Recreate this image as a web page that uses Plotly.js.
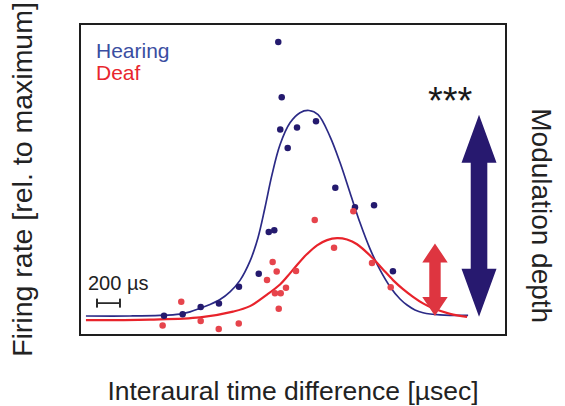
<!DOCTYPE html>
<html>
<head>
<meta charset="utf-8">
<script src="https://cdn.plot.ly/plotly-3.0.1.min.js"></script>
<style>html,body{margin:0;padding:0;background:#fff;}#chart{width:565px;height:406px;}</style>
</head>
<body>
<div id="chart"></div>
<script>
// ---- Data (ITD in µs, firing rate relative to maximum) ----
const hearingX = [-128, -98, -111, 35, 200, -46, 368, -1122, -960, -803, -644, -470, -298, -211, -163, 539, 705, 869];
const hearingY = [1.000, 0.798, 0.681, 0.688, 0.711, 0.613, 0.468, 0.001, 0.006, 0.033, 0.046, 0.107, 0.154, 0.307, 0.313, 0.397, 0.404, 0.163];

const deafX = [-972, -1134, -803, -646, -472, -177, -142, -226, -157, -107, -61, -124, 26, 525, 189, 357, 687, 850];
const deafY = [0.052, -0.035, -0.018, -0.047, -0.027, 0.197, 0.162, 0.131, 0.083, 0.083, 0.103, 0.026, 0.164, 0.382, 0.350, 0.249, 0.193, 0.105];

// fitted curves
const hearingFitX = [-1801, -1418, -1157, -983, -896, -809, -722, -635, -548, -461, -374, -305, -244, -183, -113, -26, 61, 139, 218, 322, 409, 496, 583, 670, 757, 844, 931, 992, 1061, 1131, 1279, 1523];
const hearingFitY = [0.000, 0.000, 0.002, 0.007, 0.015, 0.028, 0.042, 0.060, 0.088, 0.130, 0.200, 0.285, 0.395, 0.515, 0.625, 0.705, 0.742, 0.750, 0.735, 0.655, 0.560, 0.450, 0.340, 0.245, 0.168, 0.107, 0.062, 0.040, 0.022, 0.012, 0.004, 0.002];

const deafFitX = [-1801, -1244, -809, -522, -374, -226, -113, -52, 35, 122, 209, 296, 383, 470, 557, 696, 783, 870, 957, 1044, 1131, 1218, 1366, 1514];
const deafFitY = [-0.015, -0.013, -0.005, 0.016, 0.036, 0.078, 0.115, 0.143, 0.186, 0.226, 0.258, 0.277, 0.284, 0.279, 0.262, 0.210, 0.170, 0.131, 0.098, 0.070, 0.046, 0.028, 0.008, -0.003];

// modulation depth (arrow extents)
const depthGroups = ['Hearing', 'Deaf'];
const depthValues = [0.734, 0.265];

const scaleBarUs = 200;

// ---- Layout constants ----
const W = 565, H = 406;
const M = {l: 81, r: 60, t: 25, b: 72};
const xRange = [-1844, 1844];
const yRange = [-0.0657, 1.062];
const plotW = W - M.l - M.r, plotH = H - M.t - M.b;
const pxX = (xRange[1] - xRange[0]) / plotW; // data units per px (x)
const pxY = (yRange[1] - yRange[0]) / plotH; // data units per px (y)
const paperX = px => (px - M.l) / plotW;
const paperY = py => (M.t + plotH - py) / plotH;

const navy = '#241a6e';
const navyLine = '#2b2a86';
const red = '#e8232b';
const redDot = '#e6444c';

function arrowPath(cx, y0, y1, headLenPx, headHalfPx, shaftHalfPx) {
  const hl = headLenPx * pxY, hh = headHalfPx * pxX, sh = shaftHalfPx * pxX;
  const pts = [
    [cx, y1], [cx + hh, y1 - hl], [cx + sh, y1 - hl], [cx + sh, y0 + hl],
    [cx + hh, y0 + hl], [cx, y0], [cx - hh, y0 + hl], [cx - sh, y0 + hl],
    [cx - sh, y1 - hl], [cx - hh, y1 - hl]
  ];
  return 'M ' + pts.map(p => p[0] + ',' + p[1]).join(' L ') + ' Z';
}

const traces = [
  {x: hearingFitX, y: hearingFitY, mode: 'lines', line: {color: navyLine, width: 1.7, shape: 'spline', smoothing: 1}, hoverinfo: 'skip', showlegend: false},
  {x: deafFitX, y: deafFitY, mode: 'lines', line: {color: red, width: 2.2, shape: 'spline', smoothing: 1}, hoverinfo: 'skip', showlegend: false},
  {x: hearingX, y: hearingY, mode: 'markers', name: 'Hearing', marker: {color: navy, size: 6.5}, showlegend: false},
  {x: deafX, y: deafY, mode: 'markers', name: 'Deaf', marker: {color: redDot, size: 6.5}, showlegend: false}
];

const sbX0 = -1705, sbY = 0.047, sbTick = 4.5 * pxY;
const shapes = [
  {type: 'path', xref: 'x', yref: 'y', path: arrowPath(1618, -0.003, depthValues[0], 48, 17.5, 8.3), fillcolor: '#27196f', line: {width: 0}},
  {type: 'path', xref: 'x', yref: 'y', path: arrowPath(1235, 0, depthValues[1], 19, 12.7, 5.7), fillcolor: '#de3540', line: {width: 0}},
  {type: 'line', xref: 'x', yref: 'y', x0: sbX0, x1: sbX0 + scaleBarUs, y0: sbY, y1: sbY, line: {color: '#2a2a2a', width: 1.8}},
  {type: 'line', xref: 'x', yref: 'y', x0: sbX0, x1: sbX0, y0: sbY - sbTick, y1: sbY + sbTick, line: {color: '#2a2a2a', width: 2}},
  {type: 'line', xref: 'x', yref: 'y', x0: sbX0 + scaleBarUs, x1: sbX0 + scaleBarUs, y0: sbY - sbTick, y1: sbY + sbTick, line: {color: '#2a2a2a', width: 2}}
];

const font = 'Liberation Sans, Arial, Helvetica, sans-serif';
const annotations = [
  {xref: 'paper', yref: 'paper', x: paperX(94), y: paperY(50.5), xanchor: 'left', yanchor: 'middle', text: depthGroups[0], showarrow: false, font: {family: font, size: 21, color: '#3a4ea1'}},
  {xref: 'paper', yref: 'paper', x: paperX(94), y: paperY(72.5), xanchor: 'left', yanchor: 'middle', text: depthGroups[1], showarrow: false, font: {family: font, size: 21, color: '#e8262e'}},
  {xref: 'paper', yref: 'paper', x: paperX(86), y: paperY(282.5), xanchor: 'left', yanchor: 'middle', text: scaleBarUs + ' µs', showarrow: false, font: {family: font, size: 20, color: '#222'}},
  {xref: 'paper', yref: 'paper', x: paperX(450), y: paperY(101), xanchor: 'center', yanchor: 'middle', text: '***', showarrow: false, font: {family: font, size: 38, color: '#1a1a1a'}},
  {xref: 'paper', yref: 'paper', x: paperX(541.7), y: paperY(216), xanchor: 'center', yanchor: 'middle', text: 'Modulation depth', textangle: 90, showarrow: false, font: {family: font, size: 28, color: '#222'}}
];

const layout = {
  width: W, height: H,
  margin: M,
  paper_bgcolor: '#fff', plot_bgcolor: '#fff',
  font: {family: font, color: '#222'},
  showlegend: false,
  xaxis: {
    range: xRange, showgrid: false, zeroline: false, showticklabels: false, ticks: '',
    showline: true, mirror: true, linecolor: '#1e1e1e', linewidth: 2,
    title: {text: 'Interaural time difference [µsec]', font: {family: font, size: 26.5, color: '#222'}, standoff: 52}
  },
  yaxis: {
    range: yRange, showgrid: false, zeroline: false, showticklabels: false, ticks: '',
    showline: true, mirror: true, linecolor: '#1e1e1e', linewidth: 2,
    title: {text: 'Firing rate [rel. to maximum]', font: {family: font, size: 28.5, color: '#222'}, standoff: 38}
  },
  shapes: shapes,
  annotations: annotations
};

Plotly.newPlot('chart', traces, layout, {staticPlot: true, displayModeBar: false});
</script>
</body>
</html>
